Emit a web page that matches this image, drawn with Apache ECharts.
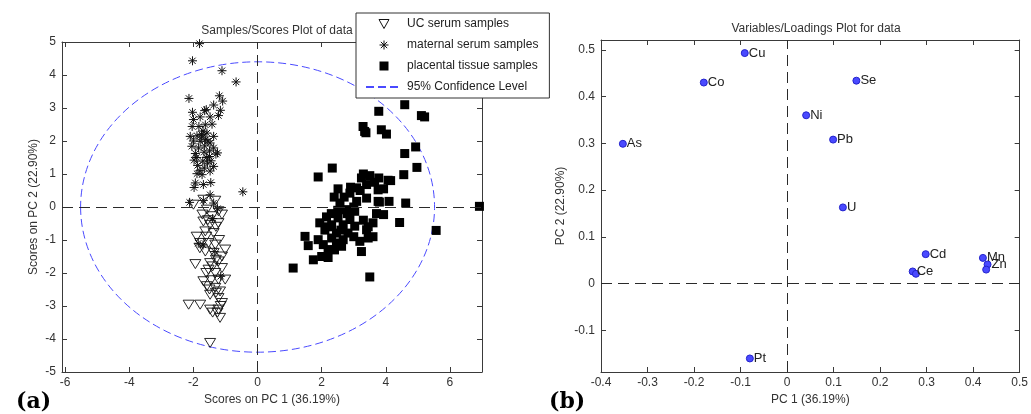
<!DOCTYPE html>
<html>
<head>
<meta charset="utf-8">
<script src="https://cdn.jsdelivr.net/npm/echarts@6/dist/echarts.min.js"></script>
<style>html,body{margin:0;padding:0;background:#fff}#c{width:1031px;height:414px}</style>
</head>
<body>
<div id="c"></div>
<script>
// ---------- Scores plot data (PC1, PC2) ----------
const ucSerum = [
  [-2.0,0.07],[-1.69,0.22],[-1.32,0.19],[-1.58,-0.08],[-1.22,-0.13],[-1.72,-0.23],[-1.42,-0.28],[-1.11,-0.23],
  [-1.69,-0.44],[-1.48,-0.54],[-1.22,-0.49],[-1.63,-0.74],[-1.37,-0.79],[-1.79,-1.09],[-1.53,-1.09],[-1.32,-1.14],
  [-1.01,-1.29],[-1.63,-1.35],[-1.37,-1.39],[-1.11,-1.5],[-1.94,-1.73],[-1.48,-1.7],[-1.22,-1.65],[-1.11,-1.85],
  [-1.53,-1.9],[-1.32,-2.0],[-1.69,-2.25],[-1.45,-2.22],[-1.22,-2.2],[-1.01,-2.2],[-1.58,-2.4],[-1.32,-2.45],
  [-1.17,-2.56],[-1.48,-2.66],[-1.22,-2.76],[-2.15,-2.96],[-1.79,-2.96],[-1.48,-3.11],[-1.11,-2.91],[-1.22,-3.11],
  [-1.17,-3.36],[-1.48,-4.12],[-1.9,-0.9],[-1.6,-0.9],[-1.4,-1.8],[-1.6,-2.0],[-1.3,-2.6],[-1.15,-3.0],
  [-1.4,-3.2],[-1.55,-0.4],[-1.3,-0.6],[-1.8,-1.25],[-1.2,-1.0],[-1.3,-1.6],[-1.5,-2.5],[-1.25,-3.2]
];
const maternalSerum = [
  [-1.81,4.95],[-2.03,4.43],[-1.11,4.13],[-0.67,3.79],[-2.14,3.29],[-1.19,3.37],[-1.09,3.21],[-1.37,3.09],
  [-2.03,2.87],[-1.65,2.92],[-1.6,2.95],[-1.16,2.93],[-1.22,2.77],[-2.0,2.65],[-1.79,2.73],[-1.48,2.73],
  [-2.04,2.44],[-1.83,2.44],[-1.63,2.49],[-1.42,2.51],[-2.1,2.14],[-1.89,2.16],[-1.74,2.12],[-1.58,2.24],
  [-1.37,2.14],[-2.0,2.0],[-1.79,1.99],[-1.63,2.04],[-1.48,1.94],[-2.05,1.84],[-1.84,1.79],[-1.37,1.79],
  [-1.94,1.62],[-1.67,1.66],[-1.5,1.53],[-1.25,1.64],[-1.98,1.42],[-1.71,1.39],[-1.56,1.33],[-1.87,1.26],
  [-1.37,1.23],[-1.66,1.18],[-1.89,1.01],[-1.73,0.98],[-1.48,1.09],[-1.94,0.73],[-1.69,0.68],[-1.46,0.74],
  [-1.98,0.59],[-0.46,0.46],[-1.48,0.37],[-2.12,0.14],[-1.37,0.12],[-1.69,0.2],[-1.7,2.3],[-1.55,2.0],
  [-1.65,1.85],[-1.75,2.2],[-1.5,1.7],[-1.9,1.5],[-1.6,1.5],[-1.8,1.1],[-1.45,1.4],[-1.3,1.6],
  [-1.25,-0.05],[-1.4,-0.35],[-1.85,-1.1],[-1.7,-1.15],[-1.35,-1.35],[-1.15,-2.1]
];
const placentalTissue = [
  [3.78,2.9],[3.29,2.44],[3.34,2.29],[3.38,2.25],[3.86,2.34],[2.33,1.18],[1.89,0.91],[3.24,0.88],
  [3.5,0.95],[3.78,0.88],[3.4,0.68],[2.51,0.55],[3.09,0.58],[3.76,0.52],[2.39,0.3],[2.88,0.42],
  [3.4,0.27],[3.76,0.17],[2.57,0.12],[3.09,0.17],[2.77,-0.08],[3.03,-0.13],[3.71,-0.2],[2.15,-0.3],
  [2.51,-0.33],[2.88,-0.38],[1.94,-0.48],[2.31,-0.54],[2.67,-0.54],[3.03,-0.58],[3.6,-0.48],[2.1,-0.7],
  [2.46,-0.79],[2.82,-0.79],[3.4,-0.69],[1.48,-0.89],[1.89,-0.99],[2.31,-0.94],[2.67,-0.99],[3.45,-0.94],
  [1.58,-1.17],[2.05,-1.14],[2.46,-1.09],[3.19,-1.04],[2.2,-1.29],[2.62,-1.19],[1.74,-1.6],[2.2,-1.53],
  [3.24,-1.35],[1.11,-1.85],[3.5,-2.12],[4.59,3.1],[5.11,2.77],[5.21,2.73],[4.02,2.21],[4.93,1.82],
  [4.59,1.62],[4.97,1.2],[4.56,0.98],[4.07,0.81],[3.93,0.55],[4.1,0.17],[4.62,0.12],[3.8,0.15],
  [3.93,-0.23],[4.43,-0.47],[5.57,-0.71],[6.92,0.02],[2.7,0.3],[2.9,0.6],[3.2,0.5],[2.5,-0.1],
  [2.8,-0.2],[3.3,-0.4],[2.2,-0.6],[2.6,-0.7],[3.0,-0.9],[2.4,-1.3],[2.0,-1.5],[3.6,-0.9],
  [3.45,-0.6],[3.0,0.0],[2.3,-0.2],[3.3,1.0],[3.65,0.75],[4.15,0.8]
];
// 95% confidence ellipse: centre and semi-axes (PC1, PC2)
const confCenter = [0, 0];
const confRadii = [5.52, 4.4];

// ---------- Loadings plot data ----------
const elements    = ['Cu',  'Co',  'As',  'Se', 'Ni', 'Pb', 'U',  'Cd', 'Ce', '',   'Mn', 'Zn', ''];
const pc1Loadings = [-0.091,-0.179,-0.353,0.149,0.041,0.099,0.120,0.298,0.270,0.277,0.421,0.431,0.428];
const pc2Loadings = [0.493, 0.430, 0.299, 0.434,0.360,0.308,0.163,0.063,0.026,0.021,0.055,0.041,0.030];
const ptLoading = ['Pt', -0.080, -0.160];

// ---------- Tick labels ----------
const scoreXTicks = [-6,-4,-2,0,2,4,6];
const scoreYTicks = [-5,-4,-3,-2,-1,0,1,2,3,4,5];
const loadXTicks  = [-0.4,-0.3,-0.2,-0.1,0,0.1,0.2,0.3,0.4,0.5];
const loadYTicks  = [-0.1,0,0.1,0.2,0.3,0.4,0.5];

const FONT = 'Liberation Sans, Arial, sans-serif';
const AXC = '#3a3a3a';

function mkAxis(gridIndex, position, min, max, ticks, showLabel, extra) {
  return Object.assign({
    type: 'value', gridIndex, position, min, max,
    axisLine: { show: true, onZero: false, lineStyle: { color: AXC, width: 1 } },
    axisTick: { show: true, inside: true, length: 5, customValues: ticks, lineStyle: { color: AXC } },
    axisLabel: { show: showLabel, customValues: ticks, color: '#333', fontSize: 12, fontFamily: FONT,
                 margin: (position === 'bottom' ? 5 : 6) },
    splitLine: { show: false }
  }, extra || {});
}

const loadData = elements.map((n, i) => ({ name: n, value: [pc1Loadings[i], pc2Loadings[i]] }));
loadData.push({ name: ptLoading[0], value: [ptLoading[1], ptLoading[2]] });

const zeroLine = {
  silent: true, symbol: 'none', label: { show: false },
  lineStyle: { color: '#2a2a2a', type: [11, 6], width: 1 },
  data: [{ xAxis: 0 }, { yAxis: 0 }],
  animation: false
};

const TRI = 'path://M0,0L10,0L5,9Z';
const STAR = 'path://M5,0L5,10M0,5L10,5M1.5,1.5L8.5,8.5M1.5,8.5L8.5,1.5';
const SQ = 'path://M0,0L10,0L10,10L0,10Z';

const option = {
  animation: false,
  textStyle: { fontFamily: FONT },
  title: [
    { text: 'Samples/Scores Plot of data', left: 272, top: 20, textAlign: 'center',
      textStyle: { fontSize: 12, fontWeight: 'normal', color: '#333', fontFamily: FONT } },
    { text: 'Variables/Loadings Plot for data', left: 811, top: 18, textAlign: 'center',
      textStyle: { fontSize: 12, fontWeight: 'normal', color: '#333', fontFamily: FONT } },
    { text: '(a)', left: 11, top: 386,
      textStyle: { fontSize: 22, fontWeight: 'bold', color: '#000', fontFamily: 'DejaVu Serif' } },
    { text: '(b)', left: 544, top: 386,
      textStyle: { fontSize: 22, fontWeight: 'bold', color: '#000', fontFamily: 'DejaVu Serif' } }
  ],
  legend: {
    orient: 'vertical', left: 356, top: 13,
    padding: [5, 11, 5, 9], itemGap: 9, itemWidth: 36, itemHeight: 9,
    backgroundColor: '#fff', borderColor: '#333', borderWidth: 1,
    symbolKeepAspect: true,
    itemStyle: { borderWidth: 1 },
    textStyle: { fontSize: 12, color: '#222', fontFamily: FONT },
    data: [
      'UC serum samples', 'maternal serum samples', 'placental tissue samples',
      { name: '95% Confidence Level', itemStyle: { opacity: 0, borderWidth: 0 } }
    ],
    selectedMode: false
  },
  grid: [
    { left: 62, right: 549, top: 42, bottom: 42 },
    { left: 601, right: 9, top: 40, bottom: 42 }
  ],
  xAxis: [
    mkAxis(0, 'bottom', -6.1, 7, scoreXTicks, true,
      { name: 'Scores on PC 1 (36.19%)', nameLocation: 'middle', nameGap: 21,
        nameTextStyle: { fontSize: 12, color: '#333', fontFamily: FONT } }),
    mkAxis(0, 'top', -6.1, 7, scoreXTicks, false),
    mkAxis(1, 'bottom', -0.4, 0.5, loadXTicks, true,
      { name: 'PC 1 (36.19%)', nameLocation: 'middle', nameGap: 21,
        nameTextStyle: { fontSize: 12, color: '#333', fontFamily: FONT } }),
    mkAxis(1, 'top', -0.4, 0.5, loadXTicks, false)
  ],
  yAxis: [
    mkAxis(0, 'left', -5, 5, scoreYTicks, true,
      { name: 'Scores on PC 2 (22.90%)', nameLocation: 'middle', nameGap: 22,
        nameTextStyle: { fontSize: 12, color: '#333', fontFamily: FONT } }),
    mkAxis(0, 'right', -5, 5, scoreYTicks, false),
    mkAxis(1, 'left', -0.189, 0.521, loadYTicks, true,
      { name: 'PC 2 (22.90%)', nameLocation: 'middle', nameGap: 34,
        nameTextStyle: { fontSize: 12, color: '#333', fontFamily: FONT } }),
    mkAxis(1, 'right', -0.189, 0.521, loadYTicks, false)
  ],
  series: [
    {
      name: 'UC serum samples', type: 'scatter', xAxisIndex: 0, yAxisIndex: 0,
      symbol: TRI, symbolSize: [11, 10], symbolKeepAspect: true,
      itemStyle: { color: 'rgba(255,255,255,0)', borderColor: '#111', borderWidth: 0.9, opacity: 1 },
      data: ucSerum, z: 3, markLine: zeroLine
    },
    {
      name: 'maternal serum samples', type: 'scatter', xAxisIndex: 0, yAxisIndex: 0,
      symbol: STAR, symbolSize: 9, symbolKeepAspect: true,
      itemStyle: { color: 'rgba(0,0,0,0)', borderColor: '#111', borderWidth: 1, opacity: 1 },
      data: maternalSerum, z: 3
    },
    {
      name: 'placental tissue samples', type: 'scatter', xAxisIndex: 0, yAxisIndex: 0,
      symbol: SQ, symbolSize: 9, symbolKeepAspect: true,
      itemStyle: { color: '#000', opacity: 1 },
      data: placentalTissue, z: 3
    },
    {
      name: '95% Confidence Level', type: 'line', xAxisIndex: 0, yAxisIndex: 0,
      data: [], symbol: 'none',
      lineStyle: { color: '#4a4aff', type: [8, 4], width: 1 }, itemStyle: { color: '#4a4aff' }
    },
    {
      name: 'confidence ellipse', type: 'custom', xAxisIndex: 0, yAxisIndex: 0, z: 2,
      data: [[confCenter[0], confCenter[1], confRadii[0], confRadii[1]]],
      renderItem: function (params, api) {
        const c = api.coord([api.value(0), api.value(1)]);
        const s = api.size([api.value(2), api.value(3)]);
        const rx = s[0], ry = s[1];
        const d = 'M' + (c[0] - rx) + ' ' + c[1] +
                  ' A' + rx + ' ' + ry + ' 0 1 0 ' + (c[0] + rx) + ' ' + c[1] +
                  ' A' + rx + ' ' + ry + ' 0 1 0 ' + (c[0] - rx) + ' ' + c[1] + ' Z';
        return { type: 'path', shape: { pathData: d },
                 style: { fill: 'none', stroke: '#4a4aff', lineWidth: 1, lineDash: [8, 4] } };
      }
    },
    {
      name: 'loadings', type: 'scatter', xAxisIndex: 2, yAxisIndex: 2,
      symbol: 'circle', symbolSize: 7,
      itemStyle: { color: '#4a4aff', borderColor: '#2222cc', borderWidth: 1, opacity: 1 },
      label: { show: true, position: 'right', distance: 0, formatter: '{b}',
               fontSize: 13, color: '#222', fontFamily: FONT },
      data: loadData, z: 3,
      markLine: zeroLine
    }
  ]
};

const chart = echarts.init(document.getElementById('c'), null, { renderer: 'canvas' });
chart.setOption(option);
</script>
</body>
</html>
